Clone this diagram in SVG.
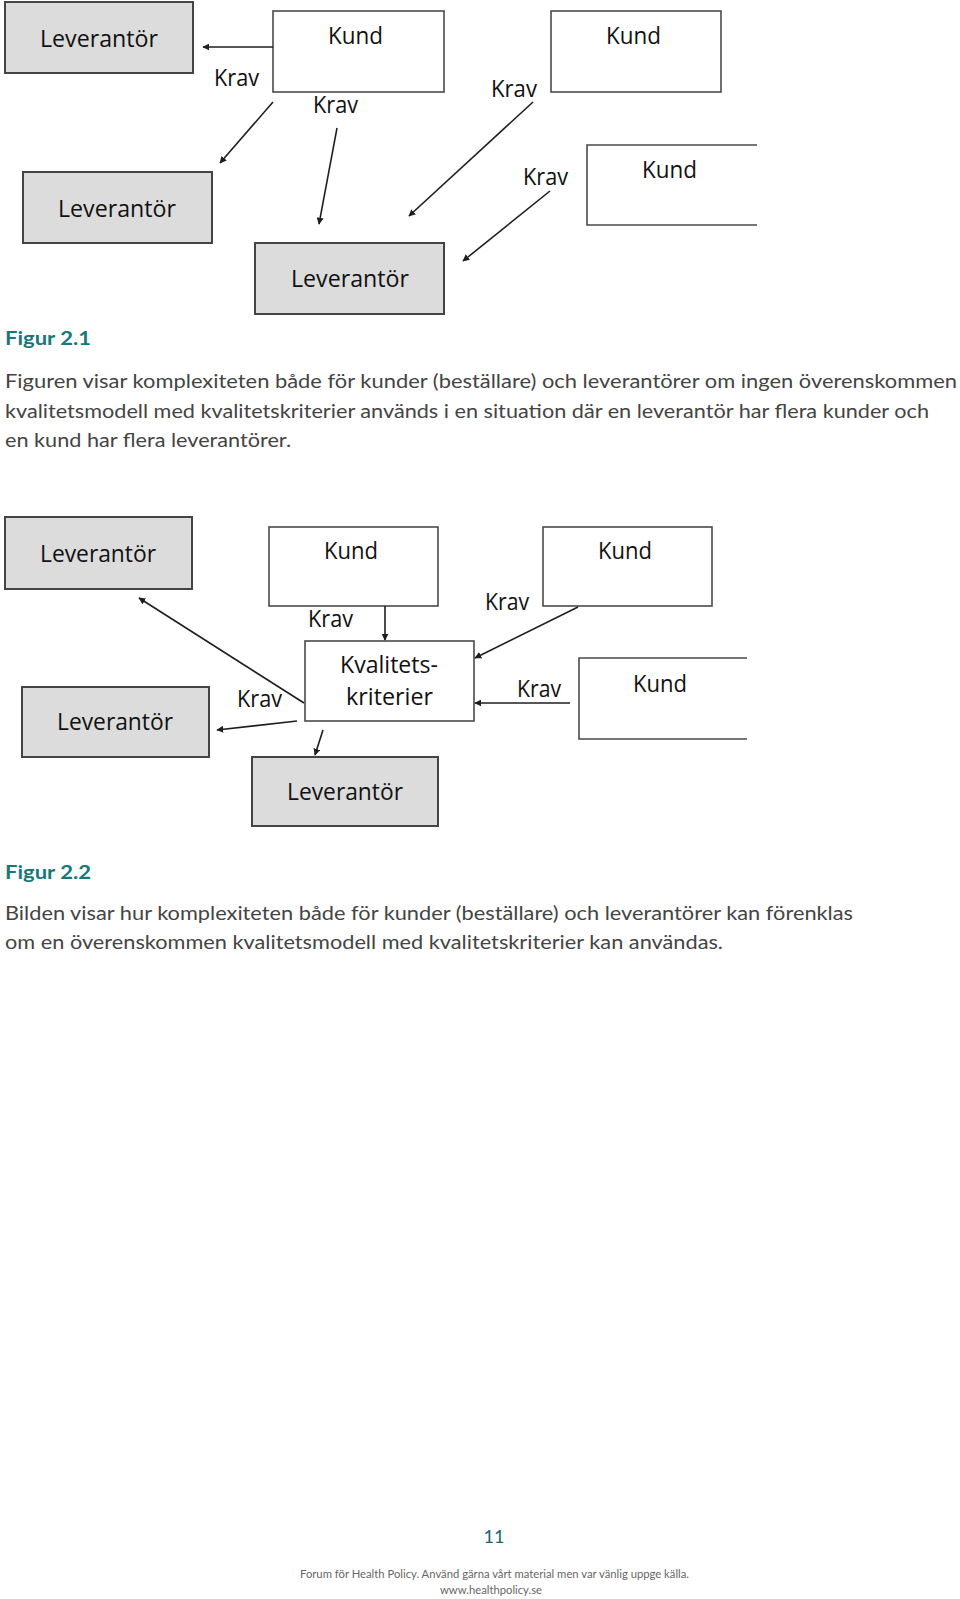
<svg xmlns="http://www.w3.org/2000/svg" width="960" height="1599" viewBox="0 0 960 1599">
<style>
.lev{fill:#dcdcdc;stroke:#444;stroke-width:2}
.kund{fill:#fff;stroke:#4a4a4a;stroke-width:1.6}
.open{fill:none;stroke:#4a4a4a;stroke-width:1.6}
.lbl{font-family:"Open Sans","Liberation Sans",sans-serif;font-size:24px;fill:#111}
.arr{fill:none;stroke:#1e1e1e;stroke-width:1.6;marker-end:url(#ah)}
.fig{font-family:Lato,"Liberation Sans",sans-serif;font-weight:bold;font-size:19px;fill:#17787a}
.body{font-family:Lato,"Liberation Sans",sans-serif;font-size:19.5px;fill:#444}
.foot{font-family:Lato,"Liberation Sans",sans-serif;font-size:11.5px;fill:#666}
</style>
<defs>
<marker id="ah" viewBox="0 0 10 10" refX="9" refY="5" markerWidth="7" markerHeight="7" markerUnits="userSpaceOnUse" orient="auto"><path d="M0,0 L10,5 L0,10 z" fill="#1e1e1e"/></marker>
</defs>
<rect width="960" height="1599" fill="#fff"/>

<!-- Figure 2.1 -->
<g id="f1-lev1"><rect class="lev" x="5" y="2" width="188" height="71"/><text class="lbl" x="40" y="47" textLength="118" lengthAdjust="spacingAndGlyphs">Leverantör</text></g>
<g id="f1-kund1"><rect class="kund" x="273" y="11" width="171" height="81"/><text class="lbl" x="328" y="44" textLength="55" lengthAdjust="spacingAndGlyphs">Kund</text></g>
<g id="f1-kund2"><rect class="kund" x="551" y="11" width="170" height="81"/><text class="lbl" x="606" y="44" textLength="55" lengthAdjust="spacingAndGlyphs">Kund</text></g>
<g id="f1-kund3"><path class="open" d="M757,145 H587 V225 H757"/><text class="lbl" x="642" y="178" textLength="55" lengthAdjust="spacingAndGlyphs">Kund</text></g>
<g id="f1-lev2"><rect class="lev" x="23" y="172" width="189" height="71"/><text class="lbl" x="58" y="217" textLength="118" lengthAdjust="spacingAndGlyphs">Leverantör</text></g>
<g id="f1-lev3"><rect class="lev" x="255" y="243" width="189" height="71"/><text class="lbl" x="291" y="287" textLength="118" lengthAdjust="spacingAndGlyphs">Leverantör</text></g>
<g id="f1-connectors">
<line class="arr" x1="273" y1="47" x2="203" y2="47"/>
<line class="arr" x1="273" y1="102" x2="220" y2="163"/>
<line class="arr" x1="337" y1="128" x2="319" y2="224"/>
<line class="arr" x1="533" y1="102" x2="409" y2="216"/>
<line class="arr" x1="550" y1="191" x2="463" y2="261"/>
<text class="lbl" x="214" y="86" textLength="45" lengthAdjust="spacingAndGlyphs">Krav</text>
<text class="lbl" x="313" y="113" textLength="45" lengthAdjust="spacingAndGlyphs">Krav</text>
<text class="lbl" x="491" y="97" textLength="46" lengthAdjust="spacingAndGlyphs">Krav</text>
<text class="lbl" x="523" y="185" textLength="45" lengthAdjust="spacingAndGlyphs">Krav</text>
</g>

<text class="fig" x="5" y="345" textLength="86" lengthAdjust="spacingAndGlyphs">Figur 2.1</text>
<text class="body" x="5" y="388" textLength="952" lengthAdjust="spacingAndGlyphs">Figuren visar komplexiteten både för kunder (beställare) och leverantörer om ingen överenskommen</text>
<text class="body" x="5" y="418" textLength="924" lengthAdjust="spacingAndGlyphs">kvalitetsmodell med kvalitetskriterier används i en situation där en leverantör har flera kunder och</text>
<text class="body" x="5" y="447" textLength="286" lengthAdjust="spacingAndGlyphs">en kund har flera leverantörer.</text>

<!-- Figure 2.2 -->
<g id="f2-levA"><rect class="lev" x="5" y="517" width="187" height="72"/><text class="lbl" x="40" y="562" textLength="116" lengthAdjust="spacingAndGlyphs">Leverantör</text></g>
<g id="f2-kund1"><rect class="kund" x="269" y="527" width="169" height="79"/><text class="lbl" x="324" y="559" textLength="54" lengthAdjust="spacingAndGlyphs">Kund</text></g>
<g id="f2-kund2"><rect class="kund" x="543" y="527" width="169" height="79"/><text class="lbl" x="598" y="559" textLength="54" lengthAdjust="spacingAndGlyphs">Kund</text></g>
<g id="f2-kval"><rect class="kund" x="305" y="641" width="169" height="80"/><text class="lbl" x="340" y="673" textLength="98" lengthAdjust="spacingAndGlyphs">Kvalitets-</text><text class="lbl" x="346" y="705" textLength="87" lengthAdjust="spacingAndGlyphs">kriterier</text></g>
<g id="f2-kund3"><path class="open" d="M747,658 H579 V739 H747"/><text class="lbl" x="633" y="692" textLength="54" lengthAdjust="spacingAndGlyphs">Kund</text></g>
<g id="f2-levB"><rect class="lev" x="22" y="687" width="187" height="70"/><text class="lbl" x="57" y="730" textLength="116" lengthAdjust="spacingAndGlyphs">Leverantör</text></g>
<g id="f2-levC"><rect class="lev" x="252" y="757" width="186" height="69"/><text class="lbl" x="287" y="800" textLength="116" lengthAdjust="spacingAndGlyphs">Leverantör</text></g>
<g id="f2-connectors">
<line class="arr" x1="385" y1="606" x2="385" y2="640"/>
<line class="arr" x1="578" y1="607" x2="475" y2="658"/>
<line class="arr" x1="570" y1="703" x2="475" y2="703"/>
<line class="arr" x1="304" y1="703" x2="139" y2="598"/>
<line class="arr" x1="297" y1="721" x2="217" y2="730"/>
<line class="arr" x1="323" y1="730" x2="315" y2="755"/>
<text class="lbl" x="308" y="627" textLength="45" lengthAdjust="spacingAndGlyphs">Krav</text>
<text class="lbl" x="485" y="610" textLength="44" lengthAdjust="spacingAndGlyphs">Krav</text>
<text class="lbl" x="237" y="707" textLength="45" lengthAdjust="spacingAndGlyphs">Krav</text>
<text class="lbl" x="517" y="697" textLength="44" lengthAdjust="spacingAndGlyphs">Krav</text>
</g>

<text class="fig" x="5" y="879" textLength="86" lengthAdjust="spacingAndGlyphs">Figur 2.2</text>
<text class="body" x="5" y="920" textLength="848" lengthAdjust="spacingAndGlyphs">Bilden visar hur komplexiteten både för kunder (beställare) och leverantörer kan förenklas</text>
<text class="body" x="5" y="949" textLength="718" lengthAdjust="spacingAndGlyphs">om en överenskommen kvalitetsmodell med kvalitetskriterier kan användas.</text>

<text x="494" y="1543" text-anchor="middle" style="font-family:Lato,'Liberation Sans',sans-serif;font-size:18px;fill:#17686a">11</text>
<text class="foot" x="300" y="1578" textLength="389" lengthAdjust="spacingAndGlyphs">Forum för Health Policy. Använd gärna vårt material men var vänlig uppge källa.</text>
<text class="foot" x="440" y="1594" textLength="102" lengthAdjust="spacingAndGlyphs">www.healthpolicy.se</text>
</svg>
